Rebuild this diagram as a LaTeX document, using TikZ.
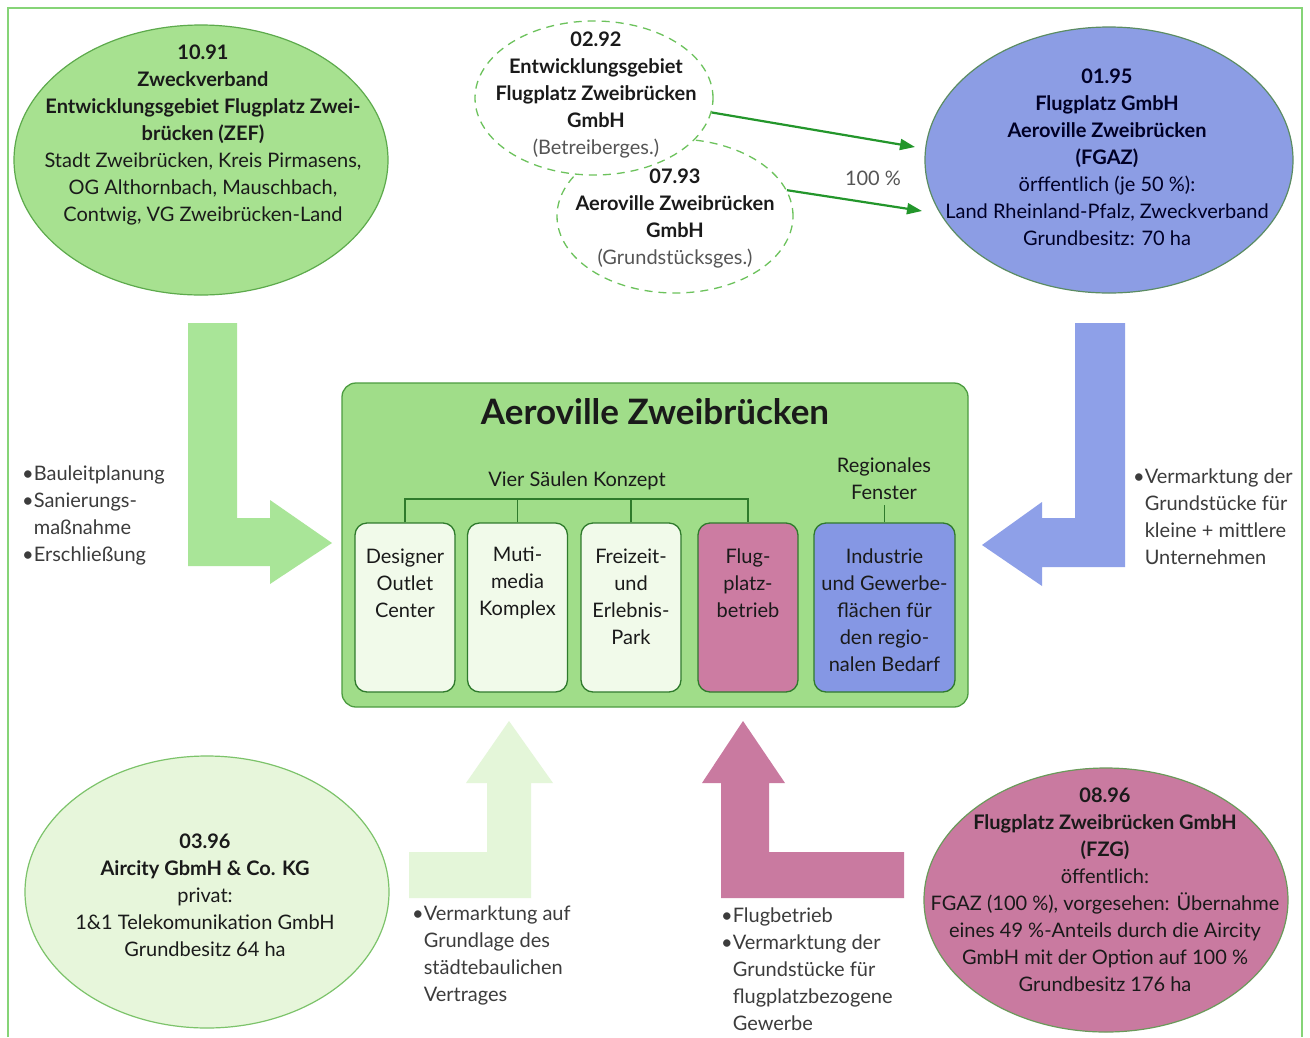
\documentclass[tikz,border=0pt]{standalone}
\usepackage{fontspec}
\setmainfont{Lato}
\usetikzlibrary{shapes.geometric,arrows.meta}
\definecolor{framec}{HTML}{86D477}
\definecolor{zefc}{HTML}{A7E190}
\definecolor{zefb}{HTML}{5DAA4C}
\definecolor{dashc}{HTML}{6CC25C}
\definecolor{arrc}{HTML}{23962B}
\definecolor{fgazc}{HTML}{8C9DE4}
\definecolor{fgazb}{HTML}{5B8C62}
\definecolor{boxc}{HTML}{A0DD89}
\definecolor{boxb}{HTML}{4C9C40}
\definecolor{subc}{HTML}{F1FAEA}
\definecolor{subb}{HTML}{2F7A2C}
\definecolor{pinkc}{HTML}{CC7CA2}
\definecolor{bluec}{HTML}{8597E4}
\definecolor{lgreen}{HTML}{A9E598}
\definecolor{lblue}{HTML}{8EA0E8}
\definecolor{pale}{HTML}{E4F6D9}
\definecolor{airc}{HTML}{E7F6DB}
\definecolor{airb}{HTML}{7CC36A}
\definecolor{fzgc}{HTML}{C97AA0}
\definecolor{fzgb}{HTML}{6A9A5A}
\definecolor{txtc}{HTML}{1A1A1A}
\definecolor{grayc}{HTML}{555555}
\tikzset{
  ell/.style={ellipse, draw, inner sep=0pt, line width=1.2pt},
  dell/.style={ellipse, draw=dashc, fill=white, inner sep=0pt, line width=1.3pt, dash pattern=on 8pt off 6pt},
  txt/.style={align=center, inner sep=0pt, text=txtc, font=\fontsize{20}{27}\selectfont},
  btxt/.style={align=left, inner sep=0pt, text=txtc!85, font=\fontsize{20}{27}\selectfont, anchor=west},
  subbox/.style={draw=subb, fill=subc, rounded corners=12pt, line width=1.3pt, minimum width=100pt, minimum height=169pt, inner sep=0pt},
  brk/.style={draw=subb, line width=1.2pt},
  conn/.style={draw=arrc, line width=2.2pt, -{Triangle[length=15pt,width=11pt]}},
}
\begin{document}
\begin{tikzpicture}[x=1pt,y=-1pt]
\useasboundingbox (0,0) rectangle (1310,1037);
\fill[white] (0,0) rectangle (1310,1037);
\draw[framec, line width=1.6pt] (8,1037) -- (8,8) -- (1302,8) -- (1302,1037);

% L arrows
\fill[lgreen] (188,323) -- (237,323) -- (237,518) -- (270,518) -- (270,500) -- (332,543) -- (270,584) -- (270,566) -- (188,566) -- cycle;
\fill[lblue] (1075,323) -- (1125,323) -- (1125,567) -- (1042,567) -- (1042,586) -- (982,545) -- (1042,502) -- (1042,518) -- (1075,518) -- cycle;
\fill[pale] (509,721) -- (553,783) -- (531,783) -- (531,898) -- (409,898) -- (409,852) -- (487,852) -- (487,783) -- (466,783) -- cycle;
\fill[fzgc] (743,721) -- (785,783) -- (769,783) -- (769,852) -- (904,852) -- (904,898) -- (721,898) -- (721,783) -- (702,783) -- cycle;

% top-left ellipse
\node[ell, fill=zefc, draw=zefb, minimum width=374pt, minimum height=270pt] (zef) at (201,160) {};
\node[txt] (zeft) at (203,135) {\textbf{10.91}\\\textbf{Zweckverband}\\\textbf{Entwicklungsgebiet Flugplatz Zwei-}\\\textbf{brücken (ZEF)}\\Stadt Zweibrücken, Kreis Pirmasens,\\OG Althornbach, Mauschbach,\\Contwig, VG Zweibrücken-Land};

% dashed ellipses
\node[dell, minimum width=236pt, minimum height=154pt] (gs) at (675,216) {};
\node[dell, minimum width=238pt, minimum height=154pt] (bg) at (594,98) {};
\node[txt] (bgt) at (596,95) {\textbf{02.92}\\\textbf{Entwicklungsgebiet}\\\textbf{Flugplatz Zweibrücken}\\\textbf{GmbH}\\\textcolor{grayc}{(Betreiberges.)}};
\node[txt] (gst) at (675,219) {\textbf{07.93}\\\textbf{Aeroville Zweibrücken}\\\textbf{GmbH}\\\textcolor{grayc}{(Grundstücksges.)}};

% top-right ellipse
\node[ell, fill=fgazc, draw=fgazb, minimum width=368pt, minimum height=266pt] (fgaz) at (1109,160) {};
\node[txt, text=black!85!blue] (fgazt) at (1107,157) {\textbf{01.95}\\\textbf{Flugplatz GmbH}\\\textbf{Aeroville Zweibrücken}\\\textbf{(FGAZ)}\\örffentlich (je 50 \%):\\Land Rheinland-Pfalz, Zweckverband\\Grundbesitz: 70 ha};

\coordinate (t1) at (915,147);
\coordinate (t2) at (922,211);
\draw[conn] (bg.-7) -- (t1);
\draw[conn] (gs.13) -- (t2);
\node[txt, text=grayc] (pct) at (873,178) {100 \%};

% centre box
\node[draw=boxb, fill=boxc, rounded corners=14pt, line width=1.3pt, minimum width=626pt, minimum height=324pt, inner sep=0pt] (av) at (655,545) {};
\node[inner sep=0pt, text=txtc, font=\fontsize{35}{40}\selectfont\bfseries] (avt) at (655,412) {Aeroville Zweibrücken};
\node[txt] (vsk) at (577,481) {Vier Säulen Konzept};
\node[txt] (rf) at (884,479) {Regionales\\Fenster};

\node[subbox] (d) at (405,607.5) {};
\node[subbox] (m) at (517.5,607.5) {};
\node[subbox] (fz) at (631,607.5) {};
\node[subbox, fill=pinkc] (fl) at (748,607.5) {};
\node[subbox, fill=bluec, minimum width=141pt] (ind) at (884.5,607.5) {};

\node[txt] (dt) at (405,583) {Designer\\Outlet\\Center};
\node[txt] (mt) at (517.5,583) {Muti-\\media\\Komplex};
\node[txt] (fzt) at (631,596.5) {Freizeit-\\und\\Erlebnis-\\Park};
\node[txt] (flt) at (748,583) {Flug-\\platz-\\betrieb};
\node[txt] (indt) at (884.5,610) {Industrie\\und Gewerbe-\\flächen für\\den regio-\\nalen Bedarf};

\coordinate (bary) at (0,499);
\coordinate (rfy) at (0,505);
\draw[brk] (d.north) -- (d.north |- bary) -- (fl.north |- bary) -- (fl.north);
\draw[brk] (m.north) -- (m.north |- bary);
\draw[brk] (fz.north) -- (fz.north |- bary);
\draw[brk] (ind.north) -- (ind.north |- rfy);

% bullets
\node[btxt] (bl) at (22,515.5) {•Bauleitplanung\\•Sanierungs-\\\hphantom{•}maßnahme\\•Erschließung};
\node[btxt] (br) at (1133,517) {•Vermarktung der\\\hphantom{•}Grundstücke für\\\hphantom{•}kleine + mittlere\\\hphantom{•}Unternehmen};
\node[btxt] (bbl) at (412,955.5) {•Vermarktung auf\\\hphantom{•}Grundlage des\\\hphantom{•}städtebaulichen\\\hphantom{•}Vertrages};
\node[btxt] (bbm) at (721,969) {•Flugbetrieb\\•Vermarktung der\\\hphantom{•}Grundstücke für\\\hphantom{•}flugplatzbezogene\\\hphantom{•}Gewerbe};

% bottom ellipses
\node[ell, fill=airc, draw=airb, minimum width=364pt, minimum height=272pt] (air) at (207,892) {};
\node[txt] (airt) at (205,895) {\textbf{03.96}\\\textbf{Aircity GbmH \& Co. KG}\\privat:\\1\&1 Telekomunikation GmbH\\Grundbesitz 64 ha};
\node[ell, fill=fzgc, draw=fzgb, minimum width=364pt, minimum height=264pt] (fzg) at (1106,900) {};
\node[txt] (fzgt) at (1105,890) {\textbf{08.96}\\\textbf{Flugplatz Zweibrücken GmbH}\\\textbf{(FZG)}\\öffentlich:\\FGAZ (100 \%), vorgesehen: Übernahme\\eines 49 \%-Anteils durch die Aircity\\GmbH mit der Option auf 100 \%\\Grundbesitz 176 ha};
\end{tikzpicture}
\end{document}
